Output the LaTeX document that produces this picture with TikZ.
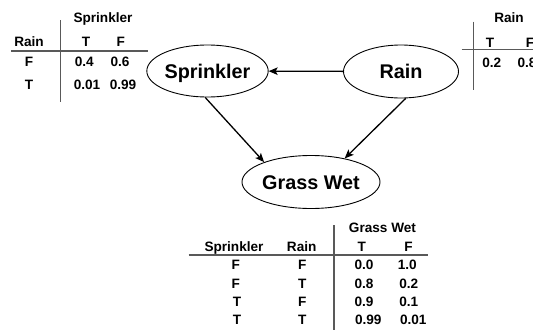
\documentclass[tikz,border=0pt]{standalone}
\usepackage{fontspec}
\setmainfont{Liberation Sans}
\usetikzlibrary{shapes.geometric,arrows.meta}
\begin{document}
\begin{tikzpicture}[x=1pt,y=-1pt,
 var/.style={ellipse,draw,line width=0.9pt,inner sep=0pt,text height=14pt,text depth=0pt,font=\fontsize{19.8}{22}\selectfont\bfseries},
 tx/.style={inner sep=0pt,text height=9.6pt,text depth=0pt,font=\fontsize{13.6}{15}\selectfont\bfseries},
 rule/.style={line width=1.1pt,black!65},
 edge/.style={line width=1.3pt,-{Stealth[length=9pt,width=7.5pt,inset=2pt]}}]
\useasboundingbox (0,0) rectangle (533,330);
% network
\node[var,minimum width=121pt,minimum height=52pt] (S) at (207.5,71) {Sprinkler};
\node[var,minimum width=115pt,minimum height=53pt] (R) at (401,71.5) {Rain};
\node[var,minimum width=117pt,minimum height=53pt] (G) at (311,182) {Grass Wet};
\draw[edge] (R) -- (S);
\draw[edge] (S.265) -- (G.157);
\draw[edge] (R.-80) -- (G.35);
% table Sprinkler
\node[tx] (a1) at (103,17.7) {Sprinkler};
\node[tx] (a2) at (29,42) {Rain};
\node[tx] (a3) at (86,42) {T};
\node[tx] (a4) at (120.7,42) {F};
\node[tx] (a5) at (29,61.7) {F};
\node[tx] (a6) at (84.3,61.7) {0.4};
\node[tx] (a7) at (120,61.7) {0.6};
\node[tx] (a8) at (29,85) {T};
\node[tx] (a9) at (87,85) {0.01};
\node[tx] (a10) at (123,85) {0.99};
\draw[rule] (11,51) -- (148,51);
\draw[rule] (60.7,20) -- (60.7,102);
% table Rain
\node[tx] (b1) at (509,18) {Rain};
\node[tx] (b2) at (490,43) {T};
\node[tx] (b3) at (530,43) {F};
\node[tx] (b4) at (491.7,62.7) {0.2};
\node[tx] (b5) at (527,62.7) {0.8};
\draw[rule] (461.7,49.3) -- (533,49.3);
\draw[rule] (473.3,21.7) -- (473.3,90);
% table Grass Wet
\node[tx] (c1) at (382.5,228) {Grass Wet};
\node[tx] (c2) at (234,247) {Sprinkler};
\node[tx] (c3) at (301.7,247) {Rain};
\node[tx] (c4) at (361.7,247) {T};
\node[tx] (c5) at (408.5,247) {F};
\node[tx] (d1) at (235.8,265) {F};
\node[tx] (d2) at (302.3,265) {F};
\node[tx] (d3) at (364,265) {0.0};
\node[tx] (d4) at (407.3,265) {1.0};
\node[tx] (e1) at (235.8,283.3) {F};
\node[tx] (e2) at (302.3,283.3) {T};
\node[tx] (e3) at (364,283.3) {0.8};
\node[tx] (e4) at (408.7,283.3) {0.2};
\node[tx] (f1) at (237,301.7) {T};
\node[tx] (f2) at (302.3,301.7) {F};
\node[tx] (f3) at (364,301.7) {0.9};
\node[tx] (f4) at (408.7,301.7) {0.1};
\node[tx] (g1) at (237,320) {T};
\node[tx] (g2) at (302.3,320) {T};
\node[tx] (g3) at (368.3,320) {0.99};
\node[tx] (g4) at (413.3,320) {0.01};
\draw[rule] (188.7,255) -- (428,255);
\draw[rule] (334,225) -- (334,330);
\end{tikzpicture}
\end{document}
